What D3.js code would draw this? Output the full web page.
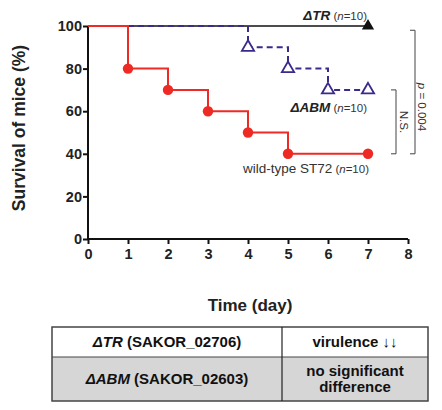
<!DOCTYPE html>
<html><head><meta charset="utf-8">
<script src="https://cdn.jsdelivr.net/npm/d3@7"></script>
<style>body{margin:0;background:#fff}svg{display:block}text{font-family:"Liberation Sans",Arial,sans-serif}</style>
</head><body>
<svg id="c" width="442" height="410"></svg>
<script>
const days = [0,1,2,3,4,5,6,7];
const wtSurvival  = [100,80,70,60,50,40,40,40];
const abmSurvival = [100,100,100,100,90,80,70,70];
const trSurvival  = [100,100,100,100,100,100,100,100];
const wtMarkers = [1,2,3,4,5,7];
const abmMarkers = [4,5,6,7];
const trMarkers = [7];
const xTicks = [0,1,2,3,4,5,6,7,8];
const yTicks = [0,20,40,60,80,100];
const tableRows = [
  ["ΔTR", " (SAKOR_02706)", ["virulence ↓↓"]],
  ["ΔABM", " (SAKOR_02603)", ["no significant","difference"]]
];

const svg = d3.select("#c");
const x = d3.scaleLinear().domain([0,8]).range([88,408]);
const y = d3.scaleLinear().domain([0,100]).range([239,26]);

// axes
const xa = svg.append("g").attr("transform","translate(0,239)")
  .call(d3.axisBottom(x).tickValues(xTicks).tickSize(5).tickFormat(d3.format("d")));
const ya = svg.append("g").attr("transform","translate(88,0)")
  .call(d3.axisLeft(y).tickValues(yTicks).tickSize(5));
[xa,ya].forEach(a=>{
  a.select(".domain").attr("stroke","#111").attr("stroke-width",2);
  a.selectAll(".tick line").attr("stroke","#111").attr("stroke-width",2);
  a.selectAll("text").attr("font-size",14.5).attr("font-weight","bold").attr("fill","#222");
});
xa.select(".domain").attr("d","M88,0H408");
ya.select(".domain").attr("d","M0,26V239");
xa.selectAll("text").attr("dy","0.8em");
ya.selectAll(".tick text").attr("x",-6);

const step = (vals)=> d3.line().curve(d3.curveStepAfter).x((d,i)=>x(days[i])).y(d=>y(d))(vals);

svg.append("path").attr("d",step(trSurvival)).attr("fill","none").attr("stroke","#111").attr("stroke-width",1.6);
svg.append("path").attr("d",step(abmSurvival)).attr("fill","none").attr("stroke","#3a2a8c").attr("stroke-width",2).attr("stroke-dasharray","6,4");
svg.append("path").attr("d",step(wtSurvival)).attr("fill","none").attr("stroke","#ee2a24").attr("stroke-width",2);

const tri = d3.symbol().type(d3.symbolTriangle).size(65);
svg.selectAll(".abm").data(abmMarkers).join("path")
  .attr("transform",d=>`translate(${x(d)},${y(abmSurvival[d])})`).attr("d",tri)
  .attr("fill","#fff").attr("stroke","#3a2a8c").attr("stroke-width",1.8);
svg.selectAll(".tr").data(trMarkers).join("path")
  .attr("transform",d=>`translate(${x(d)},${y(trSurvival[d])})`).attr("d",tri)
  .attr("fill","#111");
svg.selectAll(".wt").data(wtMarkers).join("circle")
  .attr("cx",d=>x(d)).attr("cy",d=>y(wtSurvival[d])).attr("r",5.2).attr("fill","#ee2a24");

// labels
function label(xx,yy,main,italicMain){
  const t = svg.append("text").attr("x",xx).attr("y",yy).attr("text-anchor","end").attr("font-size",13.5).attr("fill","#333");
  t.append("tspan").attr("font-style",italicMain?"italic":"normal").attr("font-weight",italicMain?"bold":"normal").attr("fill",italicMain?"#222":"#333").text(main);
  const s = t.append("tspan").attr("font-size",11.5);
  s.append("tspan").text(" (");
  s.append("tspan").attr("font-style","italic").text("n");
  s.append("tspan").text("=10)");
}
label(367,20,"ΔTR",true);
label(367,112,"ΔABM",true);
label(369,173,"wild-type ST72",false);

// brackets
function bracket(xx,y1,y2){
  svg.append("path").attr("d",`M${xx-5},${y1}H${xx}V${y2}H${xx-5}`).attr("fill","none").attr("stroke","#444").attr("stroke-width",1);
}
bracket(396,y(70),y(40));
bracket(415,y(98),y(40));
svg.append("text").attr("transform",`translate(400,122) rotate(90)`).attr("text-anchor","middle").attr("font-size",11.5).attr("fill","#333").text("N.S.");
svg.append("text").attr("transform",`translate(418,107) rotate(90)`).attr("text-anchor","middle").attr("font-size",11.5).attr("fill","#333")
  .call(t=>{t.append("tspan").attr("font-style","italic").text("p");t.append("tspan").text(" = 0.004");});

// axis titles
svg.append("text").attr("transform","translate(25,128) rotate(-90)").attr("text-anchor","middle").attr("font-size",17.5).attr("font-weight","bold").attr("fill","#222").text("Survival of mice (%)");
svg.append("text").attr("x",250).attr("y",311).attr("text-anchor","middle").attr("font-size",17).attr("font-weight","bold").attr("fill","#222").text("Time (day)");

// table
const tx0=52, tx1=282, tx2=428, rowY=[327,357,401];
tableRows.forEach((r,i)=>{
  svg.append("rect").attr("x",tx0).attr("y",rowY[i]).attr("width",tx2-tx0).attr("height",rowY[i+1]-rowY[i])
    .attr("fill",i===1?"#d6d6d6":"#fff");
  const cy=(rowY[i]+rowY[i+1])/2;
  const t=svg.append("text").attr("x",(tx0+tx1)/2).attr("y",cy+5).attr("text-anchor","middle").attr("font-size",15).attr("font-weight","bold").attr("fill","#111");
  t.append("tspan").attr("font-style","italic").text(r[0]);
  t.append("tspan").text(r[1]);
  const n=r[2].length;
  r[2].forEach((s,j)=>{
    svg.append("text").attr("x",(tx1+tx2)/2).attr("y",cy+5+(j-(n-1)/2)*16).attr("text-anchor","middle").attr("font-size",15).attr("font-weight","bold").attr("fill","#111").text(s);
  });
});
svg.append("rect").attr("x",tx0).attr("y",rowY[0]).attr("width",tx2-tx0).attr("height",rowY[2]-rowY[0]).attr("fill","none").attr("stroke","#444").attr("stroke-width",1.5);
svg.append("line").attr("x1",tx0).attr("x2",tx2).attr("y1",rowY[1]).attr("y2",rowY[1]).attr("stroke","#444").attr("stroke-width",1.2);
svg.append("line").attr("x1",tx1).attr("x2",tx1).attr("y1",rowY[0]).attr("y2",rowY[2]).attr("stroke","#222").attr("stroke-width",1.2);
</script>
</body></html>
